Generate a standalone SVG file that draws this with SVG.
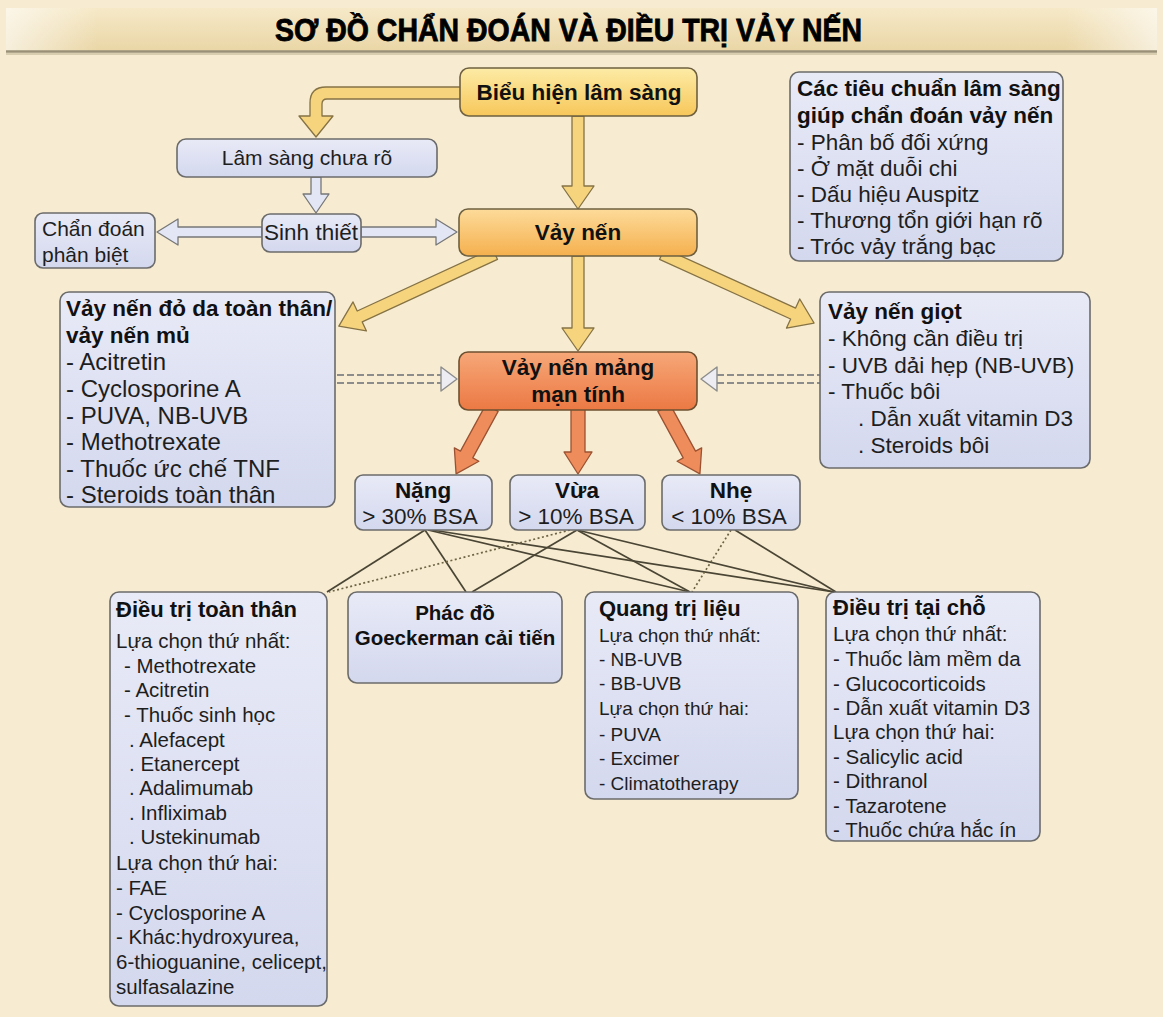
<svg xmlns="http://www.w3.org/2000/svg" width="1163" height="1017" viewBox="0 0 1163 1017">
<defs>
<linearGradient id="bar" x1="0" y1="0" x2="0" y2="1"><stop offset="0" stop-color="#F6E9C8"/><stop offset="1" stop-color="#EAD6A6"/></linearGradient>
<linearGradient id="barH" x1="0" y1="0" x2="1" y2="0"><stop offset="0" stop-color="#FFFFFF" stop-opacity="0.6"/><stop offset="0.08" stop-color="#FFFFFF" stop-opacity="0"/><stop offset="0.92" stop-color="#FFFFFF" stop-opacity="0"/><stop offset="1" stop-color="#FFFFFF" stop-opacity="0.6"/></linearGradient>
<linearGradient id="lav" x1="0" y1="0" x2="0" y2="1"><stop offset="0" stop-color="#E8EAF7"/><stop offset="1" stop-color="#D4D8EE"/></linearGradient>
<linearGradient id="yel" x1="0" y1="0" x2="0" y2="1"><stop offset="0" stop-color="#FDEBA6"/><stop offset="1" stop-color="#F7C75A"/></linearGradient>
<linearGradient id="org1" x1="0" y1="0" x2="0" y2="1"><stop offset="0" stop-color="#FDDB9A"/><stop offset="1" stop-color="#F5B04E"/></linearGradient>
<linearGradient id="org2" x1="0" y1="0" x2="0" y2="1"><stop offset="0" stop-color="#F7A778"/><stop offset="1" stop-color="#EB7944"/></linearGradient>
<style>
.t{font-family:"Liberation Sans",Arial,sans-serif;font-size:22.5px;fill:#1E1E1E}
.b{font-family:"Liberation Sans",Arial,sans-serif;font-size:22.5px;font-weight:bold;fill:#111}
.m{font-size:21px}
.L{font-size:24px}
.h{font-size:22px}
.s{font-size:20.5px}
.q{font-size:19px}
.c{text-anchor:middle}
.box{fill:url(#lav);stroke:#6B6B6B;stroke-width:1.6}
.ya{fill:#F6D47E;stroke:#857245;stroke-width:1.3;stroke-linejoin:round}
.la{fill:#E3E6F5;stroke:#777777;stroke-width:1.3;stroke-linejoin:round}
.oa{fill:#EF8C5C;stroke:#9A5232;stroke-width:1.3;stroke-linejoin:round}
.ln{stroke:#4A4534;stroke-width:1.7;fill:none}
.dt{stroke:#6E6444;stroke-width:1.7;fill:none;stroke-dasharray:2,2.5}
.dl{stroke:#8C8C8C;stroke-width:1.8;fill:none;stroke-dasharray:7,3}
.dh{fill:#EDECF2;stroke:#8C8C8C;stroke-width:1.4;stroke-linejoin:round}
</style>
</defs>
<rect x="0" y="0" width="1163" height="1017" fill="#F7ECD1"/>
<g id="title">
<rect x="6" y="8" width="1151" height="43" fill="url(#bar)"/>
<rect x="6" y="8" width="1151" height="43" fill="url(#barH)"/>
<line x1="6" y1="51.5" x2="1157" y2="51.5" stroke="#9A9078" stroke-width="2.5"/>
<line x1="6" y1="54" x2="1157" y2="54" stroke="#D8CDAF" stroke-width="2"/>
<text x="275" y="41" font-family="'Liberation Sans',Arial,sans-serif" font-size="32" font-weight="bold" fill="#000" stroke="#000" stroke-width="0.8" textLength="587" lengthAdjust="spacingAndGlyphs">SƠ ĐỒ CHẨN ĐOÁN VÀ ĐIỀU TRỊ VẢY NẾN</text>
</g>
<g id="connectors">
<path class="ya" d="M462,87 L326,87 Q310,87 310,103 L310,116 L299,116 L316,137 L333,116 L322,116 L322,104 Q322,99 327,99 L462,99 Z"/>
<polygon class="ya" transform="translate(578,116) rotate(90)" points="0,-6 70,-6 70,-16 93,0 70,16 70,6 0,6"/>
<polygon class="la" transform="translate(316,177) rotate(90)" points="0,-5 17,-5 17,-13 36,0 17,13 17,5 0,5"/>
<polygon class="la" transform="translate(262,232) rotate(180)" points="0,-5 84,-5 84,-13 105,0 84,13 84,5 0,5"/>
<polygon class="la" transform="translate(361,232)" points="0,-5 75,-5 75,-13 96,0 75,13 75,5 0,5"/>
<polygon class="ya" transform="translate(495,254) rotate(155.22)" points="0,-6 149,-6 149,-16 172,0 149,16 149,6 0,6"/>
<polygon class="ya" transform="translate(578,256) rotate(90)" points="0,-6 72,-6 72,-16 95,0 72,16 72,6 0,6"/>
<polygon class="ya" transform="translate(662,254) rotate(24.42)" points="0,-6 144,-6 144,-16 167,0 144,16 144,6 0,6"/>
<line class="dl" x1="337" y1="375" x2="441" y2="375"/>
<line class="dl" x1="337" y1="383" x2="441" y2="383"/>
<polygon class="dh" points="441,375 441,367 457,379 441,391 441,383"/>
<line class="dl" x1="717" y1="375" x2="820" y2="375"/>
<line class="dl" x1="717" y1="383" x2="820" y2="383"/>
<polygon class="dh" points="717,375 717,367 701,379 717,391 717,383"/>
<polygon class="oa" transform="translate(492,408) rotate(118.61)" points="0,-7 53,-7 53,-14 75,0 53,14 53,7 0,7"/>
<polygon class="oa" transform="translate(578,408) rotate(90)" points="0,-7 44,-7 44,-14 66,0 44,14 44,7 0,7"/>
<polygon class="oa" transform="translate(664,408) rotate(61.39)" points="0,-7 53,-7 53,-14 75,0 53,14 53,7 0,7"/>
<line class="ln" x1="425" y1="530" x2="327" y2="592"/>
<line class="ln" x1="425" y1="530" x2="466" y2="592"/>
<line class="ln" x1="428" y1="530" x2="690" y2="592"/>
<line class="ln" x1="432" y1="530" x2="834" y2="592"/>
<line class="dt" x1="570" y1="530" x2="329" y2="592"/>
<line class="ln" x1="577" y1="530" x2="472" y2="592"/>
<line class="ln" x1="577" y1="530" x2="690" y2="592"/>
<line class="ln" x1="577" y1="530" x2="834" y2="592"/>
<line class="dt" x1="731" y1="530" x2="692" y2="592"/>
<line class="ln" x1="735" y1="530" x2="836" y2="592"/>
</g>
<g id="bieu-hien">
<rect x="460" y="68" width="237" height="48" rx="9" fill="url(#yel)" stroke="#6E6040" stroke-width="1.6"/>
<text class="b c" x="579" y="100">Biểu hiện lâm sàng</text>
</g>
<g id="tieu-chuan">
<rect class="box" x="790" y="72" width="273" height="189" rx="9"/>
<text class="b" x="797" y="96">Các tiêu chuẩn lâm sàng</text>
<text class="b" x="797" y="123">giúp chẩn đoán vảy nến</text>
<text class="t" x="797" y="150">- Phân bố đối xứng</text>
<text class="t" x="797" y="176">- Ở mặt duỗi chi</text>
<text class="t" x="797" y="202">- Dấu hiệu Auspitz</text>
<text class="t" x="797" y="228">- Thương tổn giới hạn rõ</text>
<text class="t" x="797" y="254">- Tróc vảy trắng bạc</text>
</g>
<g id="lam-sang">
<rect class="box" x="177" y="139" width="260" height="38" rx="9"/>
<text class="t m c" x="307" y="165">Lâm sàng chưa rõ</text>
</g>
<g id="sinh-thiet">
<rect class="box" x="262" y="214" width="99" height="38" rx="8"/>
<text class="t c" x="311" y="240">Sinh thiết</text>
</g>
<g id="chan-doan">
<rect class="box" x="35" y="213" width="120" height="55" rx="8"/>
<text class="t m" x="42" y="236">Chẩn đoán</text>
<text class="t m" x="42" y="262">phân biệt</text>
</g>
<g id="vay-nen">
<rect x="459" y="209" width="238" height="47" rx="9" fill="url(#org1)" stroke="#6E6040" stroke-width="1.6"/>
<text class="b c" x="578" y="240">Vảy nến</text>
</g>
<g id="do-da">
<rect class="box" x="60" y="292" width="275" height="215" rx="9"/>
<text class="b" x="66" y="316">Vảy nến đỏ da toàn thân/</text>
<text class="b" x="66" y="343">vảy nến mủ</text>
<text class="t L" x="66" y="370">- Acitretin</text>
<text class="t L" x="66" y="397">- Cyclosporine A</text>
<text class="t L" x="66" y="424">- PUVA, NB-UVB</text>
<text class="t L" x="66" y="450">- Methotrexate</text>
<text class="t L" x="66" y="477">- Thuốc ức chế TNF</text>
<text class="t L" x="66" y="503">- Steroids toàn thân</text>
</g>
<g id="giot">
<rect class="box" x="820" y="292" width="270" height="176" rx="9"/>
<text class="b" x="828" y="319">Vảy nến giọt</text>
<text class="t" x="828" y="346">- Không cần điều trị</text>
<text class="t" x="828" y="373">- UVB dải hẹp (NB-UVB)</text>
<text class="t" x="828" y="399">- Thuốc bôi</text>
<text class="t" x="858" y="426">. Dẫn xuất vitamin D3</text>
<text class="t" x="858" y="453">. Steroids bôi</text>
</g>
<g id="mang">
<rect x="459" y="352" width="238" height="58" rx="9" fill="url(#org2)" stroke="#6E5030" stroke-width="1.6"/>
<text class="b c" x="578" y="375">Vảy nến mảng</text>
<text class="b c" x="578" y="402">mạn tính</text>
</g>
<g id="nang">
<rect class="box" x="355" y="475" width="137" height="55" rx="8"/>
<text class="b c" x="423" y="498">Nặng</text>
<text class="t c" x="420" y="524">&gt; 30% BSA</text>
</g>
<g id="vua">
<rect class="box" x="510" y="475" width="135" height="55" rx="8"/>
<text class="b c" x="577" y="498">Vừa</text>
<text class="t c" x="576" y="524">&gt; 10% BSA</text>
</g>
<g id="nhe">
<rect class="box" x="662" y="475" width="138" height="55" rx="8"/>
<text class="b c" x="731" y="498">Nhẹ</text>
<text class="t c" x="729" y="524">&lt; 10% BSA</text>
</g>
<g id="toan-than">
<rect class="box" x="110" y="592" width="217" height="414" rx="9"/>
<text class="b h" x="116" y="617">Điều trị toàn thân</text>
<text class="t s" x="116" y="648">Lựa chọn thứ nhất:</text>
<text class="t s" x="124" y="673">- Methotrexate</text>
<text class="t s" x="124" y="697">- Acitretin</text>
<text class="t s" x="124" y="722">- Thuốc sinh học</text>
<text class="t s" x="129" y="747">. Alefacept</text>
<text class="t s" x="129" y="771">. Etanercept</text>
<text class="t s" x="129" y="795">. Adalimumab</text>
<text class="t s" x="129" y="820">. Infliximab</text>
<text class="t s" x="129" y="844">. Ustekinumab</text>
<text class="t s" x="116" y="870">Lựa chọn thứ hai:</text>
<text class="t s" x="116" y="895">- FAE</text>
<text class="t s" x="116" y="920">- Cyclosporine A</text>
<text class="t s" x="116" y="944">- Khác:hydroxyurea,</text>
<text class="t s" x="116" y="969">6-thioguanine, celicept,</text>
<text class="t s" x="116" y="994">sulfasalazine</text>
</g>
<g id="phac-do">
<rect class="box" x="348" y="592" width="214" height="91" rx="9"/>
<text class="b s c" x="455" y="620">Phác đồ</text>
<text class="b s c" x="455" y="645">Goeckerman cải tiến</text>
</g>
<g id="quang">
<rect class="box" x="585" y="592" width="213" height="207" rx="9"/>
<text class="b h" x="599" y="616">Quang trị liệu</text>
<text class="t q" x="599" y="642">Lựa chọn thứ nhất:</text>
<text class="t q" x="599" y="666">- NB-UVB</text>
<text class="t q" x="599" y="690">- BB-UVB</text>
<text class="t q" x="599" y="715">Lựa chọn thứ hai:</text>
<text class="t q" x="599" y="741">- PUVA</text>
<text class="t q" x="599" y="765">- Excimer</text>
<text class="t q" x="599" y="790">- Climatotherapy</text>
</g>
<g id="tai-cho">
<rect class="box" x="826" y="592" width="214" height="249" rx="9"/>
<text class="b h" x="833" y="615">Điều trị tại chỗ</text>
<text class="t s" x="833" y="641">Lựa chọn thứ nhất:</text>
<text class="t s" x="833" y="666">- Thuốc làm mềm da</text>
<text class="t s" x="833" y="691">- Glucocorticoids</text>
<text class="t s" x="833" y="715">- Dẫn xuất vitamin D3</text>
<text class="t s" x="833" y="739">Lựa chọn thứ hai:</text>
<text class="t s" x="833" y="764">- Salicylic acid</text>
<text class="t s" x="833" y="788">- Dithranol</text>
<text class="t s" x="833" y="813">- Tazarotene</text>
<text class="t s" x="833" y="837">- Thuốc chứa hắc ín</text>
</g>
</svg>
